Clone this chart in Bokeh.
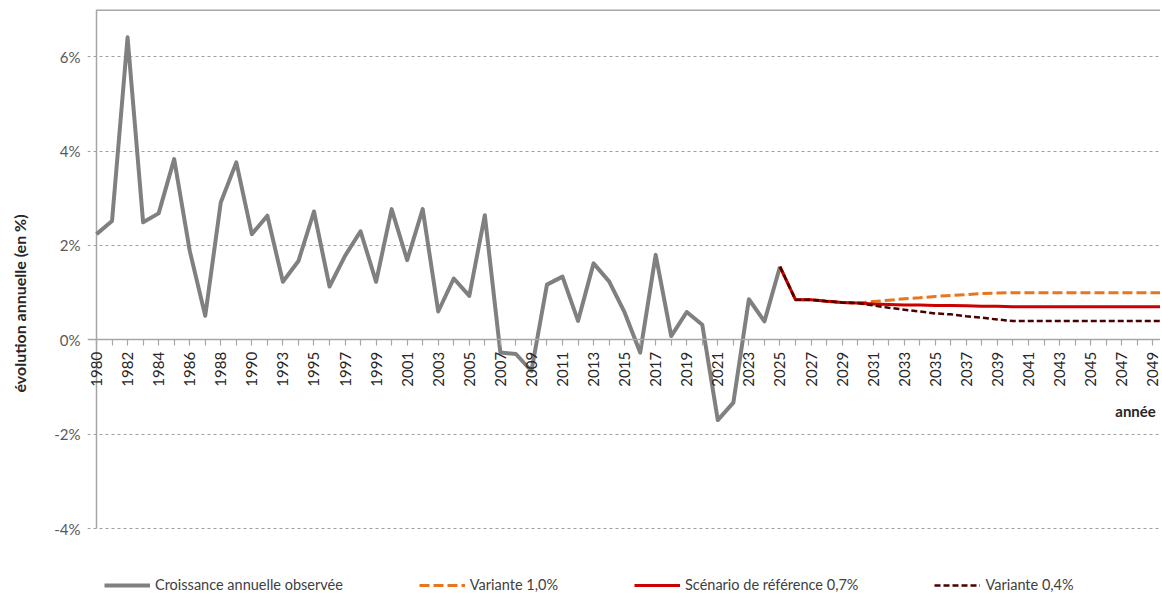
import math
from bokeh.plotting import figure
from bokeh.models import (Range1d, FixedTicker, PrintfTickFormatter, Legend,
                          LegendItem, Label)
from bokeh.embed import file_html
from bokeh.resources import INLINE

# ---- data ----
years = ["1980", "1981", "1982", "1983", "1984", "1985", "1986", "1987", "1988", "1989",
         "1990", "1992", "1993", "1994", "1995", "1996", "1997", "1998", "1999", "2000",
         "2001", "2002", "2003", "2004", "2005", "2006", "2007", "2008", "2009", "2010",
         "2011", "2012", "2013", "2014", "2015", "2016", "2017", "2018", "2019", "2020",
         "2021", "2022", "2023", "2024", "2025", "2026", "2027", "2028", "2029", "2030",
         "2031", "2032", "2033", "2034", "2035", "2036", "2037", "2038", "2039", "2040",
         "2041", "2042", "2043", "2044", "2045", "2046", "2047", "2048", "2049", "2050"]

observed = [2.24, 2.52, 6.41, 2.49, 2.68, 3.83, 1.89, 0.51, 2.91, 3.76,
            2.24, 2.63, 1.23, 1.67, 2.72, 1.13, 1.78, 2.30, 1.23, 2.77,
            1.69, 2.77, 0.60, 1.30, 0.93, 2.64, -0.27, -0.30, -0.66, 1.17,
            1.34, 0.40, 1.62, 1.24, 0.58, -0.27, 1.80, 0.08, 0.59, 0.32,
            -1.70, -1.33, 0.86, 0.39, 1.55]

# projections 2025 -> 2050
variante_10 = [1.55, 0.85, 0.85, 0.82, 0.79, 0.78,
               0.81, 0.84, 0.87, 0.89, 0.92, 0.94, 0.96, 0.98, 0.99, 1.00,
               1.00, 1.00, 1.00, 1.00, 1.00, 1.00, 1.00, 1.00, 1.00, 1.00]
reference_07 = [1.55, 0.85, 0.85, 0.82, 0.79, 0.78,
                0.76, 0.75, 0.74, 0.74, 0.73, 0.73, 0.72, 0.71, 0.71, 0.70,
                0.70, 0.70, 0.70, 0.70, 0.70, 0.70, 0.70, 0.70, 0.70, 0.70]
variante_04 = [1.55, 0.85, 0.85, 0.82, 0.79, 0.78,
               0.73, 0.68, 0.64, 0.60, 0.56, 0.54, 0.50, 0.47, 0.43, 0.40,
               0.40, 0.40, 0.40, 0.40, 0.40, 0.40, 0.40, 0.40, 0.40, 0.40]

y_ticks = [-4, -2, 0, 2, 4, 6]
legend_labels = ["Croissance annuelle observée", "Variante 1,0%",
                 "Scénario de référence 0,7%", "Variante 0,4%"]

# ---- derived positions (category index on the x scale) ----
x_all = list(range(len(years)))
x_obs = x_all[:len(observed)]
start = len(observed) - 1
x_proj = x_all[start:start + len(reference_07)]

FONT = "Lato"
GRAY_AX = "#a6a6a6"
X_START, X_END = -0.58, 68.5
Y_AXIS_MIN, Y_END = -4, 7
Y_START = -5.46   # extra room below the value axis for the legend

p = figure(width=1160, height=597, x_range=Range1d(X_START, X_END),
           y_range=Range1d(Y_START, Y_END),
           output_backend="svg", toolbar_location=None,
           min_border_left=87, min_border_right=0, min_border_top=9, min_border_bottom=0)
p.outline_line_color = None
p.border_fill_color = "white"
p.background_fill_color = "white"

# frame decorations: top border and vertical value-axis line at the first category
p.segment(x0=[x_all[0]], y0=[Y_END], x1=[X_END], y1=[Y_END], line_color=GRAY_AX, line_width=3)
p.segment(x0=[x_all[0]], y0=[Y_AXIS_MIN], x1=[x_all[0]], y1=[Y_END], line_color=GRAY_AX,
          line_width=1.5)

r_obs = p.line(x_obs, observed, line_color="#808080", line_width=4, line_join="round")
r_v10 = p.line(x_proj, variante_10, line_color="#E8761E", line_width=3, line_dash="10 4")
r_ref = p.line(x_proj, reference_07, line_color="#CC0000", line_width=3)
r_v04 = p.line(x_proj, variante_04, line_color="#4A0000", line_width=2.5, line_dash="6 3")

# x axis at y = 0
xa = p.xaxis[0]
xa.fixed_location = 0
xa.ticker = FixedTicker(ticks=x_all)
xa.major_label_overrides = {i: (years[i] if i % 2 == 0 else "") for i in x_all}
xa.major_label_orientation = math.pi / 2
xa.major_label_text_font = FONT
xa.major_label_text_font_size = "15px"
xa.major_label_text_color = "#262626"
xa.major_label_standoff = 6
xa.axis_line_color = GRAY_AX
xa.axis_line_width = 1.5
xa.major_tick_line_color = GRAY_AX
xa.major_tick_line_width = 1.2
xa.major_tick_out = 6
xa.major_tick_in = 0
xa.minor_tick_line_color = None

# y axis
ya = p.yaxis[0]
ya.ticker = FixedTicker(ticks=y_ticks)
ya.formatter = PrintfTickFormatter(format="%d%%")
ya.major_label_text_font = FONT
ya.major_label_text_font_size = "15px"
ya.major_label_text_color = "#595959"
ya.major_label_standoff = 7
ya.axis_line_color = None
ya.major_tick_line_color = None
ya.major_tick_out = 0
ya.major_tick_in = 0
ya.minor_tick_line_color = None
ya.axis_label = "évolution annuelle (en %)"
ya.axis_label_text_font = FONT
ya.axis_label_text_font_style = "bold"
ya.axis_label_text_font_size = "16px"
ya.axis_label_text_color = "#262626"
ya.axis_label_standoff = 22

p.xgrid.grid_line_color = None
p.ygrid.ticker = FixedTicker(ticks=[t for t in y_ticks if t != 0])
p.ygrid.grid_line_color = "#a0a0a0"
p.ygrid.grid_line_dash = "3 3"
p.ygrid.grid_line_width = 1

p.add_layout(Label(x=X_END - 0.3, y=-1.5, text="année", text_align="right",
                   text_baseline="middle", text_font=FONT, text_font_style="bold",
                   text_font_size="15px", text_color="#262626"))

legend = Legend(items=[LegendItem(label=lab, renderers=[rr]) for lab, rr in
                       zip(legend_labels, [r_obs, r_v10, r_ref, r_v04])],
                location=(17, 4), orientation="horizontal",
                glyph_width=46, glyph_height=16, label_height=16,
                label_standoff=5, padding=0, margin=0, spacing=76,
                border_line_color=None, background_fill_alpha=0,
                label_text_font=FONT, label_text_font_size="14.5px",
                label_text_color="#404040")
p.add_layout(legend, "center")

open("out.html", "w").write(file_html(p, INLINE))
